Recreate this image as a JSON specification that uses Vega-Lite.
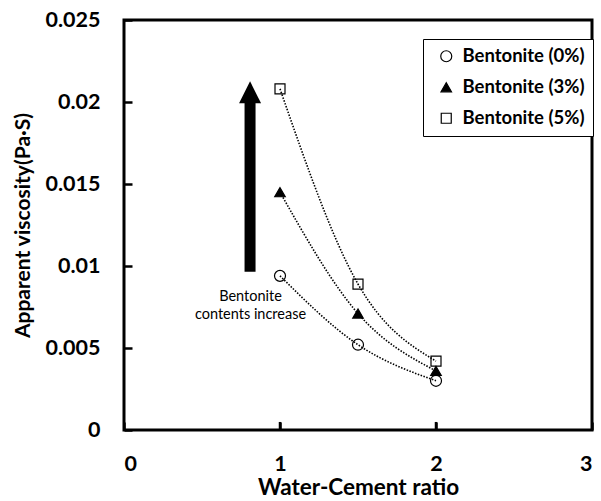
{
  "$schema": "https://vega.github.io/schema/vega-lite/v6.json",
  "width": 468,
  "height": 410,
  "autosize": {"type": "none"},
  "padding": {"left": 124, "top": 20, "right": 9, "bottom": 71},
  "background": "white",
  "datasets": {
    "viscosity": [
      {"x": 1.0, "y": 0.0094, "series": "Bentonite (0%)"},
      {"x": 1.5, "y": 0.0052, "series": "Bentonite (0%)"},
      {"x": 2.0, "y": 0.0030, "series": "Bentonite (0%)"},
      {"x": 1.0, "y": 0.0145, "series": "Bentonite (3%)"},
      {"x": 1.5, "y": 0.0071, "series": "Bentonite (3%)"},
      {"x": 2.0, "y": 0.0036, "series": "Bentonite (3%)"},
      {"x": 1.0, "y": 0.0208, "series": "Bentonite (5%)"},
      {"x": 1.5, "y": 0.0089, "series": "Bentonite (5%)"},
      {"x": 2.0, "y": 0.0042, "series": "Bentonite (5%)"}
    ],
    "arrow": [
      {"x": 0.808, "y": 0.00965, "y2": 0.0200, "head": 0.02059}
    ],
    "note": [
      {"x": 0.811, "y": 0.00788, "label": ["Bentonite", "contents increase"]}
    ],
    "xticks": [{"x": 1}, {"x": 2}],
    "yticks": [{"y": 0.005}, {"y": 0.01}, {"y": 0.015}, {"y": 0.02}]
  },
  "encoding": {
    "x": {
      "field": "x",
      "type": "quantitative",
      "scale": {"domain": [0, 3], "nice": false, "zero": false},
      "axis": {"title": "Water-Cement ratio", "values": [0, 1, 2, 3], "format": "d"}
    }
  },
  "layer": [
    {
      "data": {"name": "xticks"},
      "mark": {"type": "rule", "color": "black", "strokeWidth": 2.5, "strokeCap": "butt"},
      "encoding": {
        "y": {"datum": 0, "type": "quantitative"},
        "y2": {"datum": 0.00049}
      }
    },
    {
      "data": {"name": "yticks"},
      "mark": {"type": "rule", "color": "black", "strokeWidth": 2.5, "strokeCap": "butt"},
      "encoding": {
        "x": {"datum": 0, "type": "quantitative"},
        "x2": {"datum": 0.0513},
        "y": {"field": "y", "type": "quantitative"}
      }
    },
    {
      "data": {"name": "arrow"},
      "mark": {"type": "rule", "color": "black", "strokeWidth": 11, "strokeCap": "butt"},
      "encoding": {
        "y": {"field": "y", "type": "quantitative"},
        "y2": {"field": "y2"}
      }
    },
    {
      "data": {"name": "arrow"},
      "mark": {"type": "point", "filled": true, "color": "black", "opacity": 1, "size": 484, "shape": "M0,-1L1,1L-1,1Z", "strokeWidth": 0},
      "encoding": {
        "y": {"field": "head", "type": "quantitative"}
      }
    },
    {
      "data": {"name": "note"},
      "mark": {"type": "text", "font": "Lato", "fontSize": 14.5, "lineHeight": 18.6, "align": "center", "baseline": "alphabetic", "color": "black"},
      "encoding": {
        "y": {"field": "y", "type": "quantitative"},
        "text": {"field": "label"}
      }
    },
    {
      "data": {"name": "viscosity"},
      "mark": {"type": "line", "interpolate": "monotone", "color": "black", "strokeWidth": 1.6, "strokeDash": [1.5, 1.5]},
      "encoding": {
        "y": {"field": "y", "type": "quantitative"},
        "detail": {"field": "series"}
      }
    },
    {
      "data": {"name": "viscosity"},
      "mark": {"type": "point", "strokeWidth": 1.2, "opacity": 1},
      "encoding": {
        "y": {
          "field": "y",
          "type": "quantitative",
          "scale": {"domain": [0, 0.025], "nice": false},
          "axis": {"title": "Apparent viscosity(Pa·S)", "values": [0, 0.005, 0.01, 0.015, 0.02, 0.025], "labelExpr": "'' + datum.value"}
        },
        "shape": {
          "field": "series",
          "type": "nominal",
          "scale": {"range": ["circle", "triangle-up", "square"]},
          "legend": {"title": null, "encode": {"legend": {"update": {"strokeWidth": {"value": 2}}}}}
        },
        "fill": {
          "field": "series",
          "type": "nominal",
          "scale": {"range": ["transparent", "black", "transparent"]},
          "legend": {"title": null, "encode": {"legend": {"update": {"strokeWidth": {"value": 2}}}}}
        },
        "stroke": {
          "field": "series",
          "type": "nominal",
          "scale": {"range": ["black", "black", "black"]},
          "legend": {"title": null, "encode": {"legend": {"update": {"strokeWidth": {"value": 2}}}}}
        },
        "size": {
          "field": "series",
          "type": "nominal",
          "scale": {"range": [121, 100, 64]},
          "legend": {"title": null, "encode": {"legend": {"update": {"strokeWidth": {"value": 2}}}}}
        }
      }
    }
  ],
  "config": {
    "view": {"stroke": "black", "strokeWidth": 3},
    "axis": {
      "grid": false,
      "domain": false,
      "offset": -8,
      "tickColor": "black",
      "tickWidth": 2.5,
      "tickSize": 8,
      "labelFont": "Lato",
      "labelFontSize": 21.5,
      "labelFontWeight": "bold",
      "labelColor": "black",
      "titleFont": "Lato",
      "titleFontWeight": "bold",
      "titleColor": "black"
    },
    "axisX": {"labelPadding": 23, "titlePadding": 2, "titleFontSize": 22.5},
    "axisY": {"labelPadding": 24, "titlePadding": 12, "titleFontSize": 21},
    "legend": {
      "orient": "none",
      "legendX": 299,
      "legendY": 19,
      "padding": 8,
      "strokeColor": "black",
      "fillColor": "white",
      "symbolOffset": 6,
      "labelOffset": 7,
      "labelFont": "Lato",
      "labelFontSize": 18.5,
      "labelFontWeight": "bold",
      "labelColor": "black",
      "rowPadding": 12,
      "symbolStrokeWidth": 1.2
    }
  }
}
